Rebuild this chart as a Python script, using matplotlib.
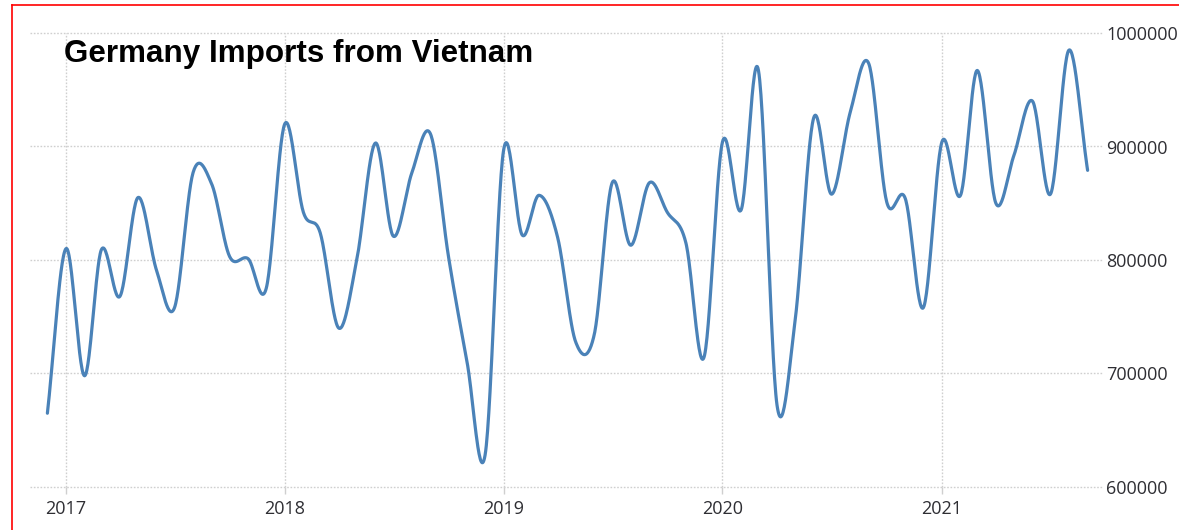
import numpy as np
import pandas as pd
import matplotlib
matplotlib.use("Agg")
import matplotlib.pyplot as plt
import matplotlib.dates as mdates
from matplotlib.lines import Line2D

# ---- data ----
dates = pd.date_range("2016-12-01", "2021-09-01", freq="MS")
values = [
    665000,
    810000, 698000, 809000, 768000, 855000, 791000, 758000, 877000, 867000, 803000, 801000, 775000,
    920000, 842000, 824000, 740000, 800000, 903000, 821000, 877000, 911000, 803000, 710000, 628000,
    897000, 822000, 857000, 820000, 728000, 734000, 868000, 813000, 868000, 842000, 815000, 714000,
    904000, 844000, 967000, 672000, 746000, 925000, 858000, 930000, 973000, 851000, 854000, 758000,
    904000, 857000, 967000, 850000, 892000, 940000, 858000, 985000, 879000,
]
title = "Germany Imports from Vietnam"
year_ticks = ["2017", "2018", "2019", "2020", "2021"]
y_ticks = [600000, 700000, 800000, 900000, 1000000]


def catmull_rom(x, y, n=30):
    x = np.asarray(x, float)
    y = np.asarray(y, float)
    xs, ys = [], []
    N = len(x)
    for i in range(N - 1):
        h = x[i + 1] - x[i]
        m0 = (y[i + 1] - y[i - 1]) / (x[i + 1] - x[i - 1]) if i > 0 else (y[i + 1] - y[i]) / h
        m1 = (y[i + 2] - y[i]) / (x[i + 2] - x[i]) if i + 2 < N else (y[i + 1] - y[i]) / h
        t = np.linspace(0, 1, n, endpoint=(i == N - 2))
        h00 = 2 * t**3 - 3 * t**2 + 1
        h10 = t**3 - 2 * t**2 + t
        h01 = -2 * t**3 + 3 * t**2
        h11 = t**3 - t**2
        xs.append(x[i] + t * h)
        ys.append(h00 * y[i] + h10 * h * m0 + h01 * y[i + 1] + h11 * h * m1)
    return np.concatenate(xs), np.concatenate(ys)


W, H = 1179, 530
fig = plt.figure(figsize=(W / 100, H / 100), dpi=100)
fig.patch.set_facecolor("white")
ax = fig.add_axes([30 / W, (H - 487) / H, (1102 - 30) / W, (487 - 33) / H])

xn = mdates.date2num(dates.to_pydatetime())
sx, sy = catmull_rom(xn, values)
ax.plot(sx, sy, color="#4a82b8", lw=2.3, solid_capstyle="round", zorder=3)

ax.set_ylim(600000, 1000000)
ax.set_xlim(mdates.date2num(pd.Timestamp("2016-11-02")), mdates.date2num(pd.Timestamp("2021-09-25")))

grid_kw = dict(color="#cfcfcf", lw=1.0, linestyle=(0, (1.2, 1.2)))
ax.set_yticks(y_ticks)
ax.set_yticklabels([str(v) for v in y_ticks])
xt = [mdates.date2num(pd.Timestamp(f"{y}-01-01")) for y in year_ticks]
ax.set_xticks(xt)
ax.set_xticklabels(year_ticks)
ax.grid(True, **grid_kw)
ax.set_axisbelow(True)
for gl in ax.get_ygridlines() + ax.get_xgridlines():
    gl.set_clip_on(False)

for s in ax.spines.values():
    s.set_visible(False)

ax.yaxis.tick_right()
ax.tick_params(axis="y", length=0, pad=3, labelsize=13, labelcolor="#2e2e33")
ax.tick_params(axis="x", length=5, width=1, color="#cfcfcf", pad=4, labelsize=13, labelcolor="#2e2e33")
for lab in ax.get_xticklabels() + ax.get_yticklabels():
    lab.set_fontfamily("Open Sans")

fig.text(64 / W, (H - 62) / H, title, fontsize=22.6, fontweight="bold",
         family="Liberation Sans", color="black", va="baseline", ha="left")

# red frame (left and top edges visible)
fig.add_artist(Line2D([12 / W, 12 / W], [0, 1 - 5 / H], color="red", lw=1.2, transform=fig.transFigure))
fig.add_artist(Line2D([12 / W, 1], [1 - 5 / H, 1 - 5 / H], color="red", lw=1.2, transform=fig.transFigure))

fig.savefig("out.png", dpi=100, facecolor="white")
